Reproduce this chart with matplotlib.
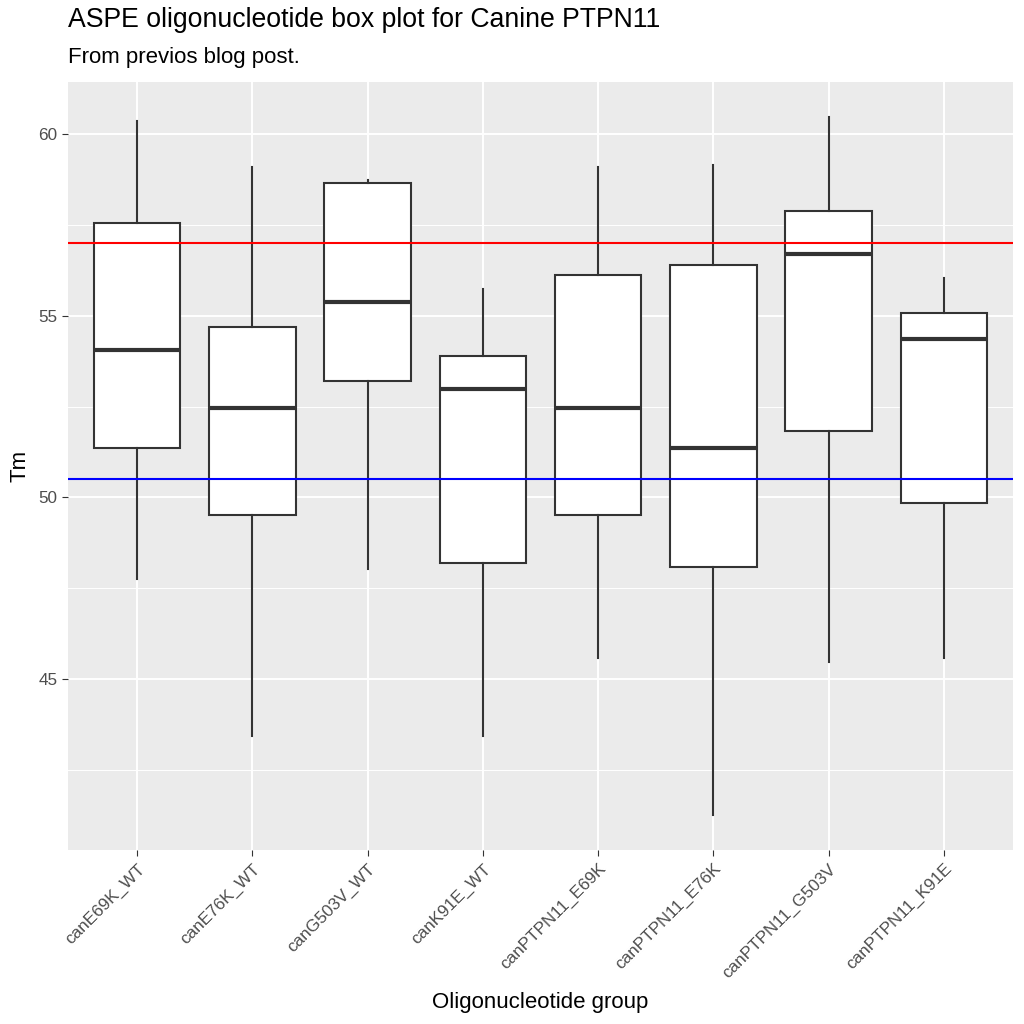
import matplotlib
matplotlib.use("Agg")
import matplotlib.pyplot as plt
from matplotlib.ticker import MultipleLocator

plt.rcParams['font.family'] = ['Liberation Sans', 'DejaVu Sans']

groups = ["canE69K_WT", "canE76K_WT", "canG503V_WT", "canK91E_WT",
          "canPTPN11_E69K", "canPTPN11_E76K", "canPTPN11_G503V", "canPTPN11_K91E"]
whisker_low = [47.75, 43.43, 48.02, 43.43, 45.58, 41.26, 45.47, 45.58]
q1 = [51.35, 49.51, 53.21, 48.19, 49.51, 48.08, 51.84, 49.86]
median = [54.07, 52.45, 55.38, 52.99, 52.45, 51.35, 56.70, 54.37]
q3 = [57.55, 54.70, 58.65, 53.90, 56.13, 56.40, 57.88, 55.08]
whisker_high = [60.36, 59.09, 58.74, 55.74, 59.09, 59.15, 60.47, 56.04]
upper_ref = 57.0
lower_ref = 50.5

stats = []
for i, g in enumerate(groups):
    stats.append(dict(label=g, whislo=whisker_low[i], q1=q1[i], med=median[i],
                      q3=q3[i], whishi=whisker_high[i], fliers=[]))

fig = plt.figure(figsize=(10.24, 10.24), dpi=100)
ax = fig.add_axes([68 / 1024, 1 - 850 / 1024, (1013 - 68) / 1024, (850 - 82) / 1024])
ax.set_facecolor("#EBEBEB")

positions = list(range(1, len(groups) + 1))
ax.bxp(stats, positions=positions, widths=0.75, patch_artist=True, showcaps=False,
       boxprops=dict(facecolor="white", edgecolor="#333333", linewidth=1.5),
       medianprops=dict(color="#333333", linewidth=3.0),
       whiskerprops=dict(color="#333333", linewidth=1.5), zorder=3)

ax.axhline(upper_ref, color="#FF0000", linewidth=1.5, zorder=4)
ax.axhline(lower_ref, color="#0000FF", linewidth=1.5, zorder=4)

lo = min(whisker_low)
hi = max(whisker_high)
pad = (hi - lo) * 0.05
ax.set_ylim(lo - pad, hi + pad)
ax.set_xlim(0.4, len(groups) + 0.6)

ax.yaxis.set_major_locator(MultipleLocator(5))
ax.yaxis.set_minor_locator(MultipleLocator(2.5))
ax.grid(which="major", color="white", linewidth=1.4, zorder=0)
ax.grid(which="minor", axis="y", color="white", linewidth=0.7, zorder=0)
ax.set_axisbelow(True)
for s in ax.spines.values():
    s.set_visible(False)

ax.set_xticks(positions)
ax.set_xticklabels(groups, rotation=45, ha="right", rotation_mode="anchor")
ax.tick_params(axis="both", which="major", length=4, color="#333333",
               labelcolor="#4D4D4D", labelsize=12.3)
ax.tick_params(axis="y", which="minor", length=0)
ax.tick_params(axis="x", pad=4)

ax.set_xlabel("Oligonucleotide group", fontsize=16, labelpad=8)
ax.set_ylabel("Tm", fontsize=16, labelpad=6)

fig.text(68 / 1024, 1 - 20 / 1024, "ASPE oligonucleotide box plot for Canine PTPN11",
         fontsize=19.2, ha="left", va="center")
fig.text(68 / 1024, 1 - 57 / 1024, "From previos blog post.",
         fontsize=16, ha="left", va="center")

fig.savefig("out.png", dpi=100)
